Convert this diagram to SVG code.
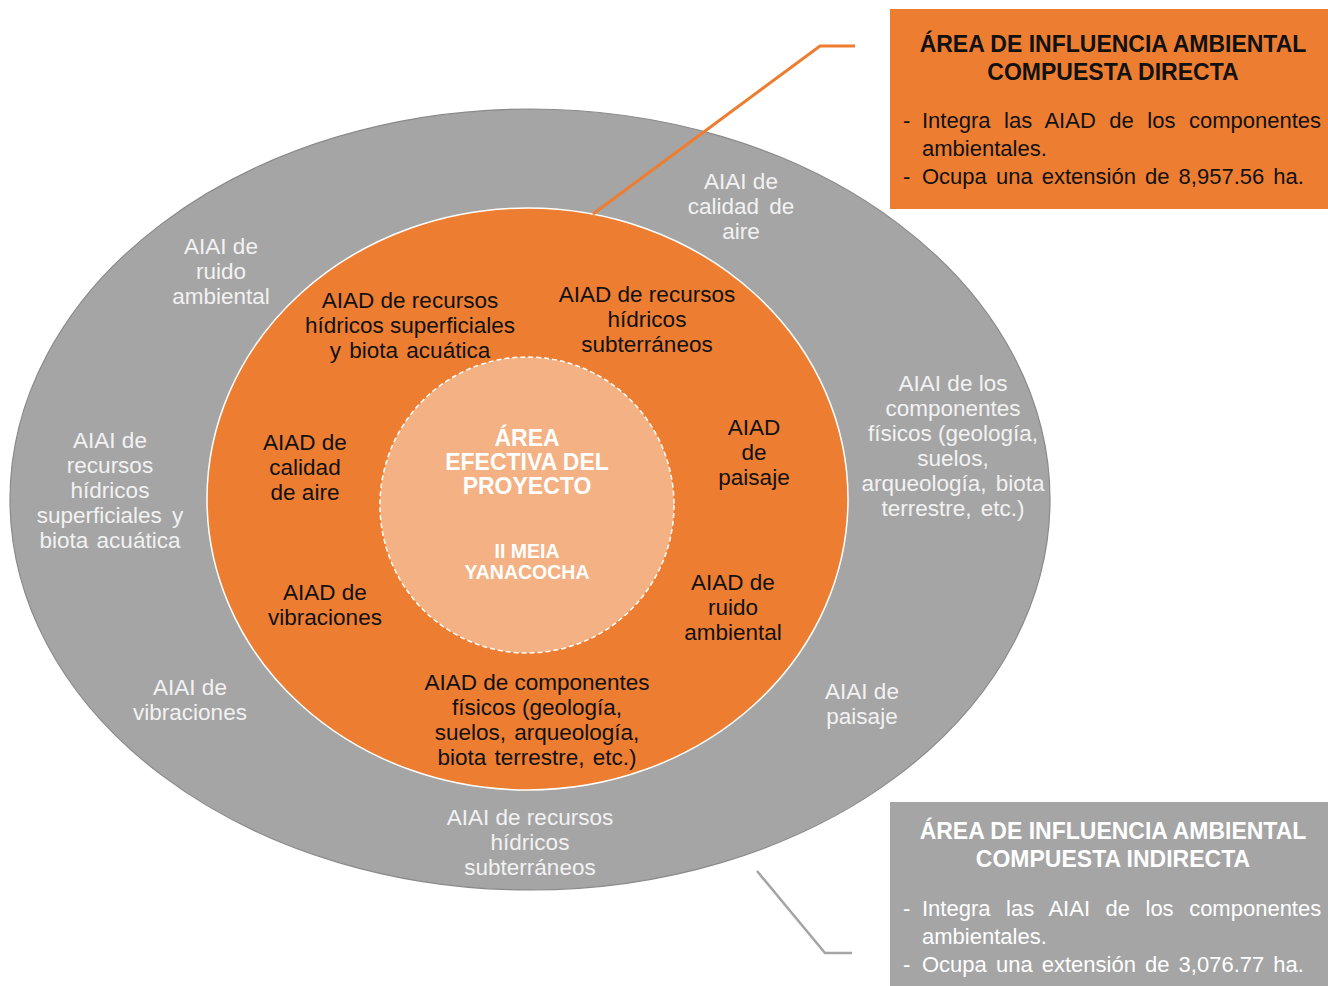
<svg xmlns="http://www.w3.org/2000/svg" width="1328" height="986" viewBox="0 0 1328 986">
<style>
text{font-family:"Liberation Sans",Arial,sans-serif;font-size:22.5px;text-anchor:middle}
.w{fill:#F2F2F2}
.k{fill:#111111}
.c{fill:#FFFFFF;font-weight:bold;font-size:23px}
.t{font-weight:bold;font-size:23px}
.b{text-anchor:start;font-size:22px}
</style>
<rect width="1328" height="986" fill="#FFFFFF"/>
<g id="aiai-compuesta">
<ellipse cx="530" cy="499.5" rx="520" ry="390.5" fill="#A5A5A5" stroke="#8A8A8A" stroke-width="1.2"/>
<text class="w"><tspan x="221" y="254">AIAI de</tspan><tspan x="221" y="279">ruido</tspan><tspan x="221" y="304">ambiental</tspan></text>
<text class="w"><tspan x="110" y="448">AIAI de</tspan><tspan x="110" y="473">recursos</tspan><tspan x="110" y="498">hídricos</tspan><tspan x="110" y="523" word-spacing="4">superficiales y</tspan><tspan x="110" y="548" word-spacing="2">biota acuática</tspan></text>
<text class="w"><tspan x="190" y="695">AIAI de</tspan><tspan x="190" y="720">vibraciones</tspan></text>
<text class="w"><tspan x="530" y="825">AIAI de recursos</tspan><tspan x="530" y="850">hídricos</tspan><tspan x="530" y="875">subterráneos</tspan></text>
<text class="w"><tspan x="862" y="699">AIAI de</tspan><tspan x="862" y="724">paisaje</tspan></text>
<text class="w"><tspan x="953" y="391">AIAI de los</tspan><tspan x="953" y="416">componentes</tspan><tspan x="953" y="441">físicos (geología,</tspan><tspan x="953" y="466">suelos,</tspan><tspan x="953" y="491" word-spacing="3">arqueología, biota</tspan><tspan x="953" y="516" word-spacing="3">terrestre, etc.)</tspan></text>
<text class="w"><tspan x="741" y="189">AIAI de</tspan><tspan x="741" y="214" word-spacing="4">calidad de</tspan><tspan x="741" y="239">aire</tspan></text>
</g>
<g id="aiad-compuesta">
<ellipse cx="527.5" cy="499" rx="320.5" ry="291" fill="#ED7D31" stroke="#FFFFFF" stroke-width="1.5"/>
<text class="k"><tspan x="410" y="308">AIAD de recursos</tspan><tspan x="410" y="333">hídricos superficiales</tspan><tspan x="410" y="358" word-spacing="2">y biota acuática</tspan></text>
<text class="k"><tspan x="647" y="302">AIAD de recursos</tspan><tspan x="647" y="327">hídricos</tspan><tspan x="647" y="352">subterráneos</tspan></text>
<text class="k"><tspan x="305" y="450">AIAD de</tspan><tspan x="305" y="475">calidad</tspan><tspan x="305" y="500">de aire</tspan></text>
<text class="k"><tspan x="754" y="435">AIAD</tspan><tspan x="754" y="460">de</tspan><tspan x="754" y="485">paisaje</tspan></text>
<text class="k"><tspan x="325" y="600">AIAD de</tspan><tspan x="325" y="625">vibraciones</tspan></text>
<text class="k"><tspan x="733" y="590">AIAD de</tspan><tspan x="733" y="615">ruido</tspan><tspan x="733" y="640">ambiental</tspan></text>
<text class="k"><tspan x="537" y="690">AIAD de componentes</tspan><tspan x="537" y="715">físicos (geología,</tspan><tspan x="537" y="740" word-spacing="2">suelos, arqueología,</tspan><tspan x="537" y="765" word-spacing="2">biota terrestre, etc.)</tspan></text>
</g>
<g id="area-efectiva">
<ellipse cx="527" cy="505" rx="147" ry="148" fill="#F4B183" stroke="#FFFFFF" stroke-width="1.5" stroke-dasharray="5 3"/>
<text class="c"><tspan x="527" y="446">ÁREA</tspan><tspan x="527" y="470">EFECTIVA DEL</tspan><tspan x="527" y="494">PROYECTO</tspan></text>
<text class="c" style="font-size:19.5px"><tspan x="527" y="558">II MEIA</tspan><tspan x="527" y="579">YANACOCHA</tspan></text>
</g>
<g id="box-directa">
<rect x="890" y="9" width="438" height="200" fill="#ED7D31"/>
<text class="k t"><tspan x="1113" y="52">ÁREA DE INFLUENCIA AMBIENTAL</tspan><tspan x="1113" y="80">COMPUESTA DIRECTA</tspan></text>
<text class="k b"><tspan x="903" y="128">-</tspan><tspan x="922" y="128" word-spacing="7.4">Integra las AIAD de los componentes</tspan><tspan x="922" y="156">ambientales.</tspan><tspan x="903" y="184">-</tspan><tspan x="922" y="184" word-spacing="3">Ocupa una extensión de 8,957.56 ha.</tspan></text>
</g>
<g id="box-indirecta">
<rect x="890" y="802" width="438" height="184" fill="#A5A5A5"/>
<text class="c t"><tspan x="1113" y="839">ÁREA DE INFLUENCIA AMBIENTAL</tspan><tspan x="1113" y="867">COMPUESTA INDIRECTA</tspan></text>
<text class="b" style="fill:#FFFFFF"><tspan x="903" y="916">-</tspan><tspan x="922" y="916" word-spacing="9.4">Integra las AIAI de los componentes</tspan><tspan x="922" y="944">ambientales.</tspan><tspan x="903" y="972">-</tspan><tspan x="922" y="972" word-spacing="3">Ocupa una extensión de 3,076.77 ha.</tspan></text>
</g>
<g id="connectors" fill="none" stroke-linejoin="miter">
<polyline points="593,214 820,46 855,46" stroke="#ED7D31" stroke-width="3"/>
<polyline points="757,871 825,953 852,953" stroke="#A5A5A5" stroke-width="2.5"/>
</g>
</svg>
